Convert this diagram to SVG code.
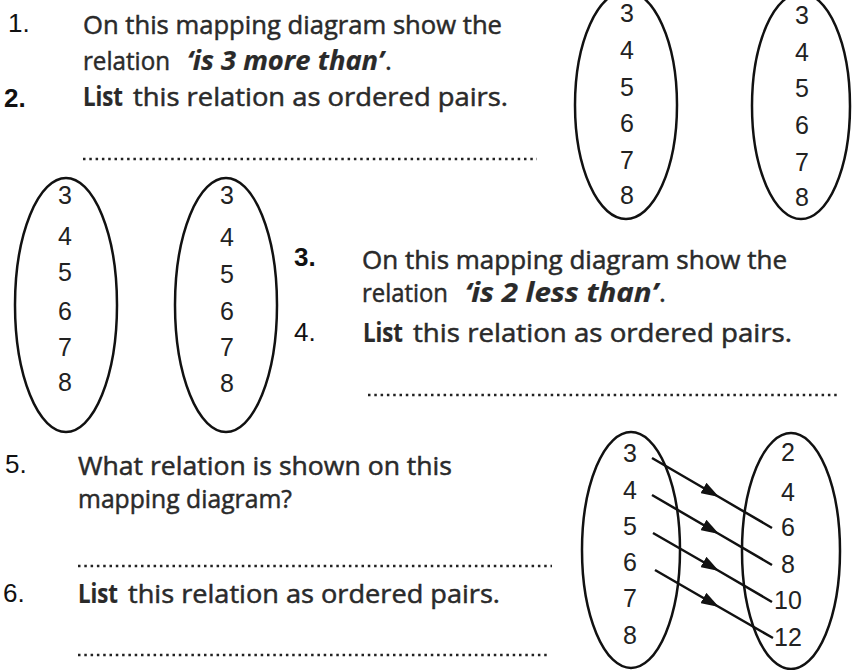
<svg xmlns="http://www.w3.org/2000/svg" width="859" height="670" viewBox="0 0 859 670">
<defs>
<marker id="ah" viewBox="0 0 18 12" refX="18" refY="6" markerWidth="18" markerHeight="12" markerUnits="userSpaceOnUse" orient="auto"><path d="M0,0 L18,6 L0,12 z" fill="#111"/></marker>
</defs>
<style>
.q{font-family:"Open Sans","Liberation Sans",sans-serif;font-size:26px;fill:#2a2a2a;stroke:#2a2a2a;stroke-width:0.5}
.b{font-weight:bold;stroke-width:0.2}
.bi{font-weight:bold;font-style:italic;stroke-width:0.2}
.n{font-family:"Liberation Sans",Arial,sans-serif;font-size:26px;fill:#111}
.d{font-family:"Liberation Sans",Arial,sans-serif;font-size:25px;fill:#222;text-anchor:middle}
.e{fill:none;stroke:#111;stroke-width:2.5}
.dot{fill:none;stroke:#222;stroke-width:2.5;stroke-dasharray:2.5 3.8}
.arr{fill:none;stroke:#111;stroke-width:2.5;marker-mid:url(#ah)}
</style>
<rect width="859" height="670" fill="#fff"/>

<g id="q12">
<text class="n" x="8" y="32">1.</text>
<text class="q" x="83" y="34" textLength="419" lengthAdjust="spacingAndGlyphs">On this mapping diagram show the</text>
<text class="q" x="83" y="70" textLength="87" lengthAdjust="spacingAndGlyphs">relation</text>
<text class="q bi" x="187" y="70" textLength="197" lengthAdjust="spacingAndGlyphs">‘is 3 more than’</text>
<text class="q" x="385" y="70">.</text>
<text class="n b" x="4" y="107">2.</text>
<text class="q b" x="83" y="106" textLength="40" lengthAdjust="spacingAndGlyphs">List</text>
<text class="q" x="133" y="106" textLength="375" lengthAdjust="spacingAndGlyphs">this relation as ordered pairs.</text>
<line class="dot" x1="83" y1="159" x2="537" y2="159"/>
</g>

<g id="map1">
<ellipse class="e" cx="626" cy="105" rx="51" ry="114"/>
<ellipse class="e" cx="801" cy="106" rx="49" ry="113"/>
<g class="d">
<text x="627" y="22">3</text><text x="627" y="59">4</text><text x="627" y="96">5</text>
<text x="627" y="132">6</text><text x="627" y="169">7</text><text x="627" y="204">8</text>
<text x="802" y="24">3</text><text x="802" y="61">4</text><text x="802" y="97">5</text>
<text x="802" y="134">6</text><text x="802" y="171">7</text><text x="802" y="206">8</text>
</g>
</g>

<g id="map2">
<ellipse class="e" cx="66" cy="305" rx="51" ry="127"/>
<ellipse class="e" cx="226" cy="305" rx="51" ry="127"/>
<g class="d">
<text x="65" y="204">3</text><text x="65" y="245">4</text><text x="65" y="281">5</text>
<text x="65" y="320">6</text><text x="65" y="356">7</text><text x="65" y="391">8</text>
<text x="227" y="204">3</text><text x="227" y="246">4</text><text x="227" y="283">5</text>
<text x="227" y="320">6</text><text x="227" y="356">7</text><text x="227" y="392">8</text>
</g>
</g>

<g id="q34">
<text class="n b" x="294" y="266">3.</text>
<text class="q" x="362" y="269" textLength="425" lengthAdjust="spacingAndGlyphs">On this mapping diagram show the</text>
<text class="q" x="362" y="302" textLength="86" lengthAdjust="spacingAndGlyphs">relation</text>
<text class="q bi" x="465" y="302" textLength="193" lengthAdjust="spacingAndGlyphs">‘is 2 less than’</text>
<text class="q" x="659" y="302">.</text>
<text class="n" x="294" y="341">4.</text>
<text class="q b" x="363" y="342" textLength="40" lengthAdjust="spacingAndGlyphs">List</text>
<text class="q" x="413" y="342" textLength="379" lengthAdjust="spacingAndGlyphs">this relation as ordered pairs.</text>
<line class="dot" x1="368" y1="395" x2="838" y2="395"/>
</g>

<g id="q56">
<text class="n" x="5" y="473">5.</text>
<text class="q" x="78" y="475" textLength="374" lengthAdjust="spacingAndGlyphs">What relation is shown on this</text>
<text class="q" x="78" y="508" textLength="214" lengthAdjust="spacingAndGlyphs">mapping diagram?</text>
<line class="dot" x1="78" y1="566" x2="552" y2="566"/>
<text class="n" x="3" y="602">6.</text>
<text class="q b" x="78" y="603" textLength="40" lengthAdjust="spacingAndGlyphs">List</text>
<text class="q" x="128" y="603" textLength="372" lengthAdjust="spacingAndGlyphs">this relation as ordered pairs.</text>
<line class="dot" x1="78" y1="655" x2="550" y2="655"/>
</g>

<g id="map3">
<ellipse class="e" cx="631" cy="550" rx="49" ry="118"/>
<ellipse class="e" cx="791" cy="551" rx="49" ry="118"/>
<g class="d">
<text x="630" y="462">3</text><text x="630" y="499">4</text><text x="630" y="535">5</text>
<text x="630" y="571">6</text><text x="630" y="607">7</text><text x="630" y="644">8</text>
<text x="788" y="461">2</text><text x="788" y="501">4</text><text x="788" y="536">6</text>
<text x="788" y="573">8</text><text x="788" y="609">10</text><text x="788" y="646">12</text>
</g>
</g>

<g id="connectors">
<polyline class="arr" points="652,458 719,497 772,528"/>
<polyline class="arr" points="652,495 719,534 772,565"/>
<polyline class="arr" points="653,533 719,571 772,602"/>
<polyline class="arr" points="655,570 719,607 773,638"/>
</g>
</svg>
